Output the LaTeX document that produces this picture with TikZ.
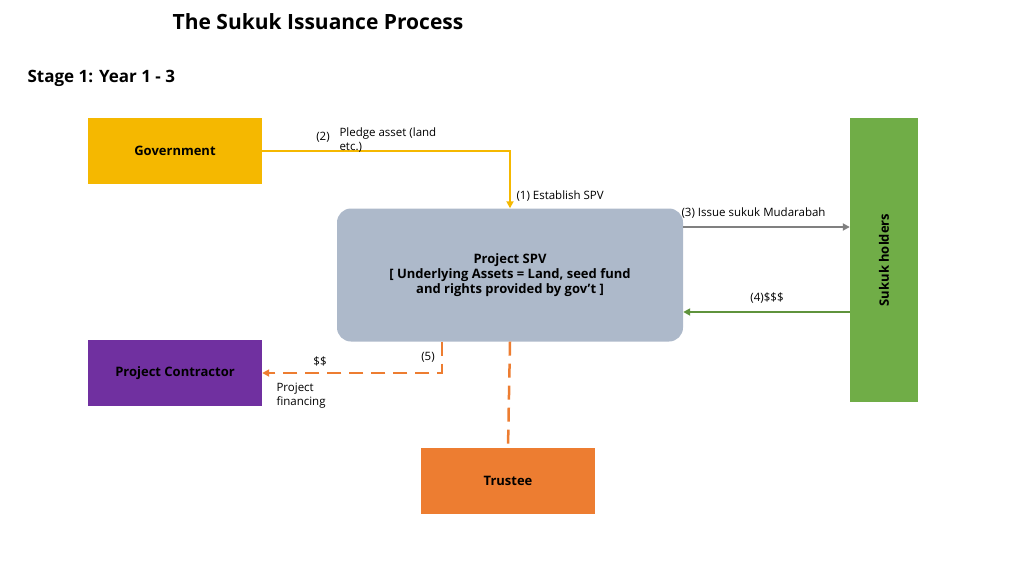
\documentclass[tikz,border=0pt]{standalone}
\usepackage{fontspec}
\setmainfont{Open Sans}
\usetikzlibrary{positioning,arrows.meta}
\definecolor{govcol}{HTML}{F5B800}
\definecolor{greencol}{HTML}{70AD47}
\definecolor{spvcol}{HTML}{ADB9CA}
\definecolor{purpcol}{HTML}{7030A0}
\definecolor{orcol}{HTML}{ED7D31}
\begin{document}
\begin{tikzpicture}[
    x=1pt, y=-1pt,
    >={Triangle[length=7pt,width=7pt]},
    box/.style={minimum width=174pt, minimum height=66pt, font=\fontsize{13}{15}\selectfont\bfseries, align=center, drop shadow/.try},
    lbl/.style={font=\fontsize{11.5}{14}\selectfont, align=left}
  ]
  \useasboundingbox (0,0) rectangle (1024,575);
  %% titles
  \node[font=\fontsize{21}{24}\selectfont\bfseries] (title) at (318,22) {The Sukuk Issuance Process};
  \node[font=\fontsize{17}{20}\selectfont\bfseries, anchor=west] (stage) at (24,78) {Stage 1: Year 1 - 3};
  %% boxes
  \node[box, fill=govcol] (gov) at (175,151) {Government};
  \node[box, fill=greencol, minimum width=68pt, minimum height=284pt] (holders) at (884,260) {};
  \node[rotate=90, font=\fontsize{13}{15}\selectfont\bfseries] (hl) at (884,260) {Sukuk holders};
  \node[box, fill=spvcol, rounded corners=14pt, minimum width=346pt, minimum height=133pt] (spv) at (510,275)
    {Project SPV\\{[} Underlying Assets = Land, seed fund\\and rights provided by gov't {]}};
  \node[box, fill=purpcol] (con) at (175,373) {Project Contractor};
  \node[box, fill=orcol] (tru) at (508,481) {Trustee};
  %% connectors
  \coordinate (c1) at (510,151);
  \draw[govcol, line width=2pt, ->] (gov.east) -- (c1) -- (spv.north);
  \draw[gray, line width=2pt, ->] (spv.east |- 0,227) -- (holders.west |- 0,227);
  \draw[greencol!85!black, line width=2pt, ->] (holders.west |- 0,312) -- (spv.east |- 0,312);
  \coordinate (c2) at (442,373);
  \draw[orcol, line width=2.5pt, dash pattern=on 14pt off 8pt, ->] (spv.south -| c2) -- (c2) -- (con.east);
  \draw[orcol, line width=2.5pt, dash pattern=on 14pt off 8pt] (spv.south) -- (tru.north);
  %% labels
  \node[lbl] (l2) at (323,137) {(2)};
  \node[lbl, anchor=north west] (l2b) at (336,124) {Pledge asset (land\\etc.)};
  \node[lbl, anchor=west] (l1) at (513,196) {(1) Establish SPV};
  \node[lbl, anchor=west] (l3) at (678,213) {(3) Issue sukuk Mudarabah};
  \node[lbl] (l4) at (767,298) {(4)\$\$\$};
  \node[lbl] (l5) at (428,357) {(5)};
  \node[lbl] (ld) at (320,361) {\$\$};
  \node[lbl, anchor=north west] (lf) at (273,380) {Project\\financing};
\end{tikzpicture}
\end{document}
